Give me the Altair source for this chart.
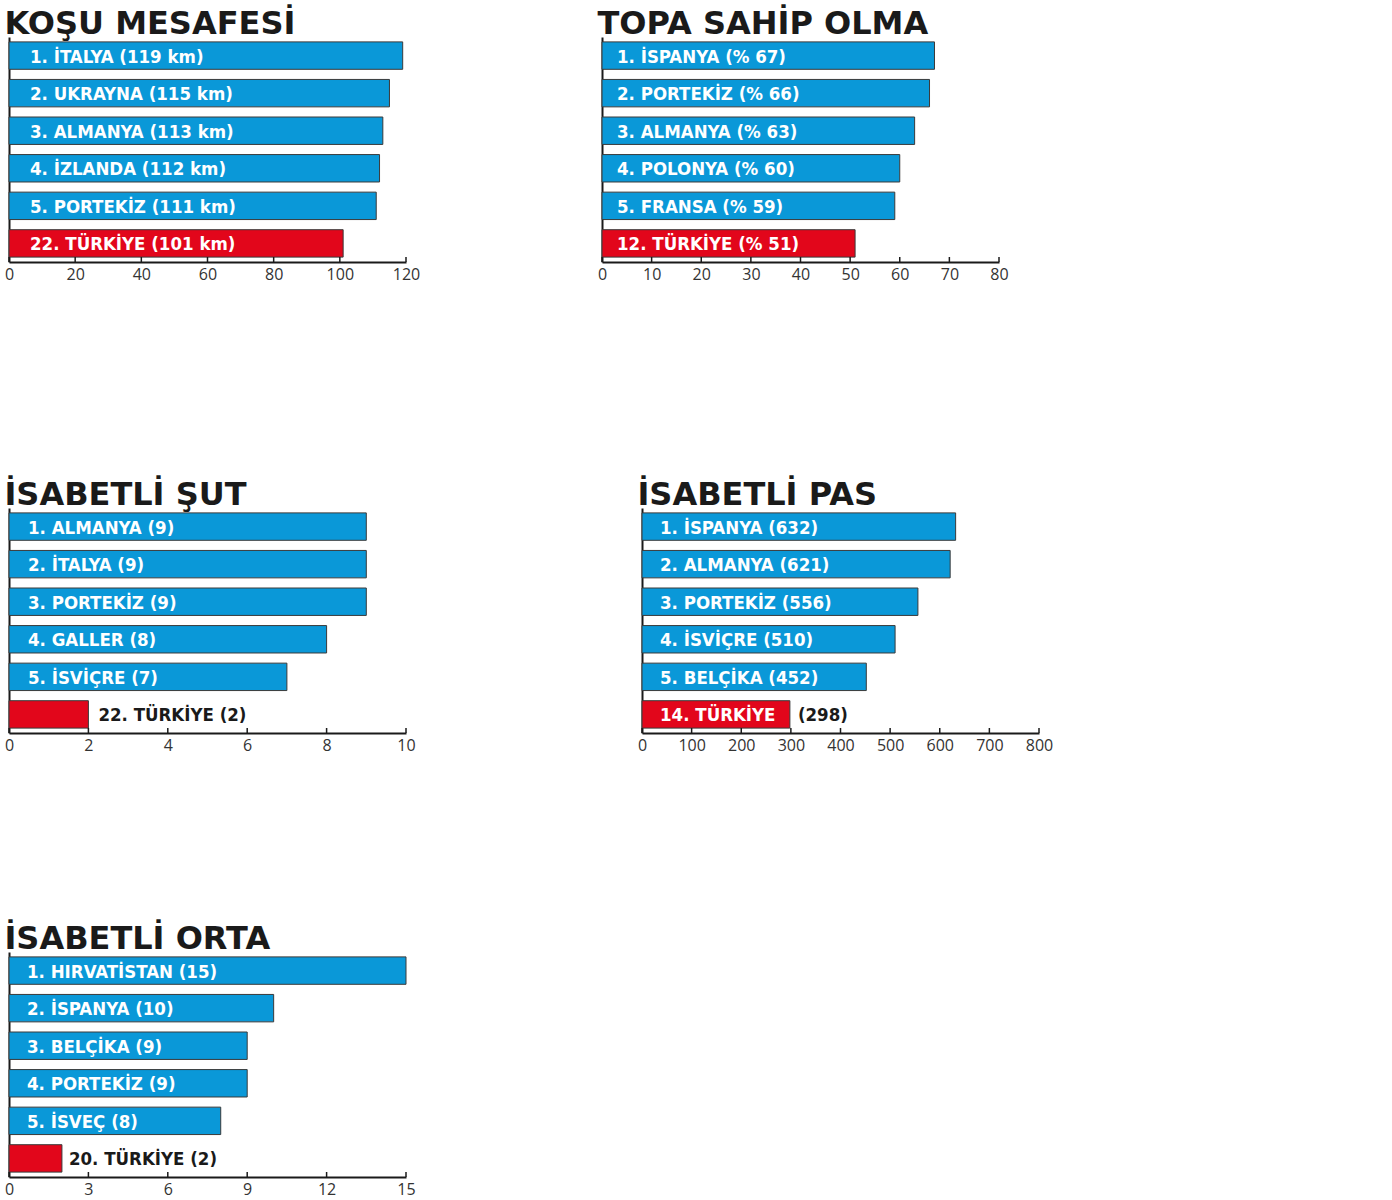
import altair as alt
import pandas as pd

BLUE = "#0a98d8"
RED = "#e2061b"
INK = "#1a1a1a"
TITLE_FONT = "DejaVu Sans"
LABEL_FONT = "DejaVu Sans Condensed"
TICK_FONT = "Open Sans"

# Koşu mesafesi
run_inside = ["1. İTALYA (119 km)", "2. UKRAYNA (115 km)", "3. ALMANYA (113 km)",
              "4. İZLANDA (112 km)", "5. PORTEKİZ (111 km)", "22. TÜRKİYE (101 km)"]
run_outside = ["", "", "", "", "", ""]
run_values = [119, 115, 113, 112, 111, 101]
run_ticks = [0, 20, 40, 60, 80, 100, 120]

# Topa sahip olma
poss_inside = ["1. İSPANYA (% 67)", "2. PORTEKİZ (% 66)", "3. ALMANYA (% 63)",
               "4. POLONYA (% 60)", "5. FRANSA (% 59)", "12. TÜRKİYE (% 51)"]
poss_outside = ["", "", "", "", "", ""]
poss_values = [67, 66, 63, 60, 59, 51]
poss_ticks = [0, 10, 20, 30, 40, 50, 60, 70, 80]

# İsabetli şut
shot_inside = ["1. ALMANYA (9)", "2. İTALYA (9)", "3. PORTEKİZ (9)",
               "4. GALLER (8)", "5. İSVİÇRE (7)", ""]
shot_outside = ["", "", "", "", "", "22. TÜRKİYE (2)"]
shot_values = [9, 9, 9, 8, 7, 2]
shot_ticks = [0, 2, 4, 6, 8, 10]

# İsabetli pas
pass_inside = ["1. İSPANYA (632)", "2. ALMANYA (621)", "3. PORTEKİZ (556)",
               "4. İSVİÇRE (510)", "5. BELÇİKA (452)", "14. TÜRKİYE"]
pass_outside = ["", "", "", "", "", "(298)"]
pass_values = [632, 621, 556, 510, 452, 298]
pass_ticks = [0, 100, 200, 300, 400, 500, 600, 700, 800]

# İsabetli orta
cross_inside = ["1. HIRVATİSTAN (15)", "2. İSPANYA (10)", "3. BELÇİKA (9)",
                "4. PORTEKİZ (9)", "5. İSVEÇ (8)", ""]
cross_outside = ["", "", "", "", "", "20. TÜRKİYE (2)"]
cross_values = [15, 10, 9, 9, 8, 2]
cross_ticks = [0, 3, 6, 9, 12, 15]

W = 397
H = 225
LABEL_SIZE = 18.5


def panel(title, inside, outside, values, ticks, text_dx, out_dx=8):
    df = pd.DataFrame({
        "row": list(range(len(values))),
        "inside": inside,
        "outside": outside,
        "value": values,
        "team": ["top"] * (len(values) - 1) + ["tr"],
    })
    tick_df = pd.DataFrame({"value": ticks})

    x_scale = alt.Scale(domain=[0, ticks[-1]], nice=False)
    x_axis = alt.Axis(values=ticks, ticks=False, tickSize=0, grid=False, title=None,
                      domainColor=INK, domainWidth=2, labelFont=TICK_FONT,
                      labelFontSize=16, labelColor="#333333", labelPadding=4,
                      labelFlush=False)
    x = alt.X("value:Q", scale=x_scale, axis=x_axis)
    y = alt.Y("row:O", scale=alt.Scale(paddingInner=0.27, paddingOuter=0.13),
              axis=alt.Axis(labels=False, ticks=False, title=None,
                            domainColor=INK, domainWidth=2))

    base = alt.Chart(df)
    bars = base.mark_bar(stroke="#3a3a3a", strokeWidth=1).encode(
        x=x, y=y,
        color=alt.Color("team:N", scale=alt.Scale(domain=["top", "tr"], range=[BLUE, RED]),
                        legend=None),
    )
    inner = base.mark_text(align="left", baseline="middle", dx=text_dx, dy=1,
                           color="white", font=LABEL_FONT, fontSize=LABEL_SIZE,
                           fontWeight="bold").encode(
        x=alt.X(datum=0, type="quantitative", scale=x_scale, axis=x_axis),
        y=y, text="inside:N")
    outer = base.mark_text(align="left", baseline="middle", dx=out_dx, dy=1,
                           color=INK, font=LABEL_FONT, fontSize=LABEL_SIZE,
                           fontWeight="bold").encode(
        x=x, y=y, text="outside:N")
    # short upward tick marks sitting on the x axis line
    tick_marks = alt.Chart(tick_df).mark_rule(color=INK, strokeWidth=1.5).encode(
        x=alt.X("value:Q", scale=x_scale, axis=x_axis),
        y=alt.value(H - 5), y2=alt.value(H),
    )
    return alt.layer(bars, inner, outer, tick_marks).properties(
        width=W, height=H,
        title=alt.TitleParams(title, anchor="start", font=TITLE_FONT, fontSize=32,
                              fontWeight="bold", color=INK, offset=-4),
    )


p1 = panel("KOŞU MESAFESİ", run_inside, run_outside, run_values, run_ticks, 21)
p2 = panel("TOPA SAHİP OLMA", poss_inside, poss_outside, poss_values, poss_ticks, 15)
p3 = panel("İSABETLİ ŞUT", shot_inside, shot_outside, shot_values, shot_ticks, 19, out_dx=10)
p4 = panel("İSABETLİ PAS", pass_inside, pass_outside, pass_values, pass_ticks, 18)
p5 = panel("İSABETLİ ORTA", cross_inside, cross_outside, cross_values, cross_ticks, 18,
           out_dx=7)

row1 = alt.hconcat(p1, p2, spacing=177)
row2 = alt.hconcat(p3, p4, spacing=221)
top = alt.vconcat(row1, row2, spacing=197)

chart = alt.vconcat(top, p5, spacing=170).properties(
    padding={"left": 4, "top": 8, "right": 5, "bottom": 2},
    background="white",
).configure_view(stroke=None)

chart.save("out.html", embed_options={"renderer": "svg", "actions": False})
